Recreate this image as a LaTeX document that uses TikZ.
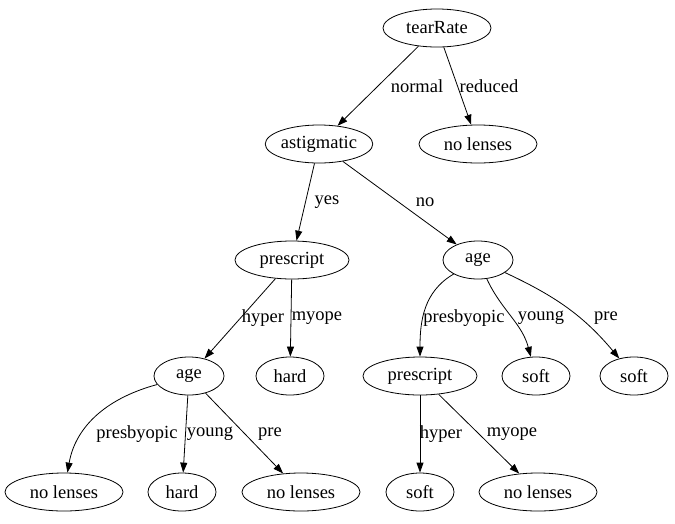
\documentclass[tikz,border=0pt]{standalone}
\usepackage{fontspec}
\setmainfont{Liberation Serif}
\usetikzlibrary{shapes.geometric,arrows.meta}
\begin{document}
\begin{tikzpicture}[x=1pt,y=-1pt,
  n/.style={ellipse,draw,thick,minimum height=38pt,minimum width=#1,inner sep=0pt,font=\fontsize{18.5}{20}\selectfont},
  lbl/.style={font=\fontsize{18.5}{20}\selectfont,inner sep=0pt},
  e/.style={draw,thick,-{Triangle[length=10pt,width=7pt]}}]
\useasboundingbox (0,0) rectangle (675,523);
\node[n=108] (t) at (437,28) {tearRate};
\node[n=96] (a) at (319,144) {astigmatic};
\node[n=118] (nl1) at (478,144) {no lenses};
\node[n=114] (p1) at (292,260) {prescript};
\node[n=70] (g1) at (478,260) {age};
\node[n=70] (g2) at (189,376) {age};
\node[n=68] (h1) at (290,376) {hard};
\node[n=114] (p2) at (420,376) {prescript};
\node[n=68] (s1) at (536,376) {soft};
\node[n=68] (s2) at (634,376) {soft};
\node[n=118] (nl2) at (64,492) {no lenses};
\node[n=68] (h2) at (182,492) {hard};
\node[n=118] (nl3) at (301,492) {no lenses};
\node[n=68] (s3) at (420,492) {soft};
\node[n=118] (nl4) at (538,492) {no lenses};
\draw[e] (t) -- (a);
\draw[e] (t) -- (nl1);
\draw[e] (a) -- (p1);
\draw[e] (a) -- (g1);
\draw[e] (p1) -- (g2);
\draw[e] (p1) -- (h1);
\draw[e] (g1) to[out=-150,in=90] (p2);
\draw[e] (g1) to[out=-65,in=105] (s1);
\draw[e] (g1) to[out=-25,in=130] (s2);
\draw[e] (g2) to[out=-165,in=80] (nl2);
\draw[e] (g2) -- (h2);
\draw[e] (g2) -- (nl3);
\draw[e] (p2) -- (s3);
\draw[e] (p2) -- (nl4);
\node[lbl] (l1) at (417,86) {normal};
\node[lbl] (l2) at (489,86) {reduced};
\node[lbl] (l3) at (327,202) {yes};
\node[lbl] (l4) at (425,202) {no};
\node[lbl] (l5) at (263,318) {hyper};
\node[lbl] (l6) at (317,318) {myope};
\node[lbl] (l7) at (464,318) {presbyopic};
\node[lbl] (l8) at (541,318) {young};
\node[lbl] (l9) at (606,318) {pre};
\node[lbl] (l10) at (137,434) {presbyopic};
\node[lbl] (l11) at (210,434) {young};
\node[lbl] (l12) at (270,434) {pre};
\node[lbl] (l13) at (441,434) {hyper};
\node[lbl] (l14) at (512,434) {myope};
\end{tikzpicture}
\end{document}
